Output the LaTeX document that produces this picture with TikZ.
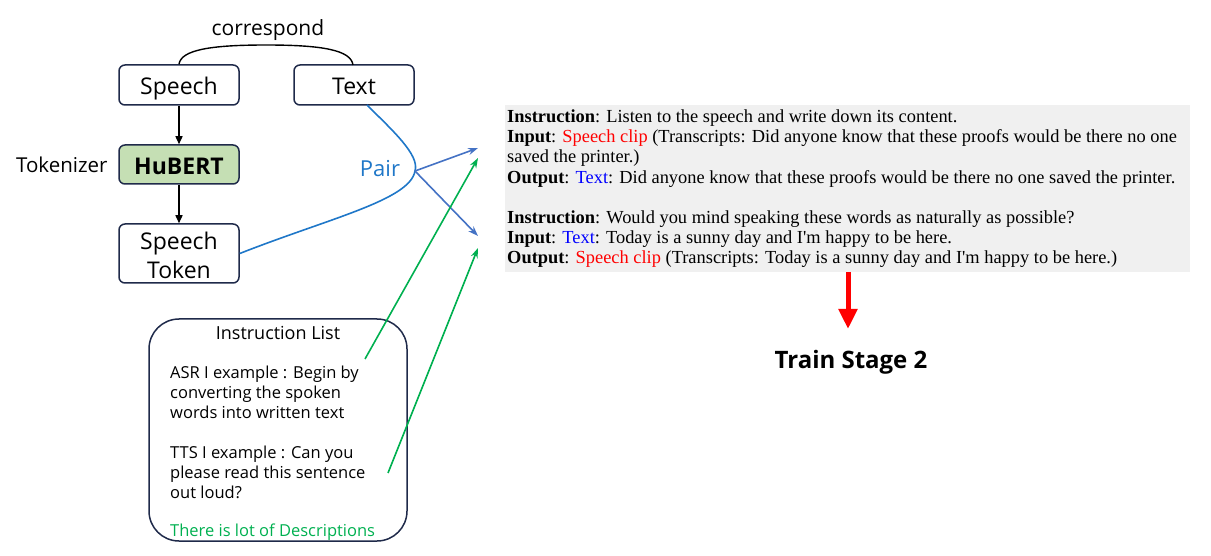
\documentclass[tikz,border=0pt]{standalone}
\usepackage{fontspec}
\setmainfont{Open Sans}
\newfontfamily\serifbox{Liberation Serif}
\usetikzlibrary{arrows.meta,calc}
\definecolor{navy}{HTML}{1F2A4A}
\definecolor{hgreen}{HTML}{C5DFB4}
\definecolor{pairblue}{HTML}{1F77C8}
\definecolor{arrblue}{HTML}{4472C4}
\definecolor{lgreen}{HTML}{00B050}
\definecolor{boxgray}{HTML}{F0F0F0}
\tikzset{
  blk/.style={draw=navy, line width=1.5pt, rounded corners=6pt, minimum width=120pt, font=\fontsize{23}{29}\selectfont, inner sep=0pt, align=center},
  oneline/.style={text height=20pt, text depth=0pt},
  tip/.style={-{Stealth[length=10pt,width=7pt]}},
  sline/.style={line width=1.6pt},
  small/.style={font=\fontsize{16.5}{20}\selectfont, anchor=north west, align=left, inner sep=0pt},
}
\begin{document}
\begin{tikzpicture}[x=1pt,y=-1pt]
\useasboundingbox (0,0) rectangle (1211,556);
% left column
\node[blk, oneline, minimum height=40pt] (speech) at (179,85) {Speech};
\node[blk, oneline, minimum height=40pt] (text) at (354,85) {Text};
\node[blk, oneline, minimum height=39pt, fill=hgreen, font=\fontsize{23}{28}\selectfont\bfseries] (hubert) at (179,164.5) {HuBERT};
\node[blk, minimum height=59pt, label={[font=\fontsize{23}{29}\selectfont, align=center, inner sep=0pt, yshift=-1.5pt]center:Speech\\Token}] (stoken) at (179,253.5) {};
\node[font=\fontsize{20.5}{24}\selectfont, anchor=east] (tok) at (111,165) {Tokenizer};
\node[font=\fontsize{21}{24}\selectfont] (corr) at (268,30) {correspond};
\draw[line width=1.4pt] (speech.north) .. controls (181,50) and (210,45) .. (266,45) .. controls (322,45) and (351,50) .. (353,65);
\draw[line width=1.4pt, -{Triangle[length=8pt,width=7pt]}] (speech) -- (hubert);
\draw[line width=1.4pt, -{Triangle[length=8pt,width=7pt]}] (hubert) -- (stoken);
% pair curve
\coordinate (tb) at (367,105);
\coordinate (p) at (415,171);
\draw[pairblue, sline] (tb) .. controls (392,130) and (420,155) .. (p) .. controls (410,200) and (330,218) .. (stoken.east);
\node[pairblue, font=\fontsize{22}{26}\selectfont] (pair) at (380,169) {Pair};
\coordinate (t1) at (478,148);
\coordinate (t2) at (478,236);
\coordinate (t3) at (478,158);
\coordinate (t4) at (478,248);
\draw[arrblue, sline, tip] (p) -- (t1);
\draw[arrblue, sline, tip] (p) -- (t2);
% instruction list
\draw[navy, line width=1.5pt, rounded corners=30pt] (149,319) rectangle (407,541);
\node[font=\fontsize{18}{22}\selectfont] (ilt) at (278,333) {Instruction List};
\node[small] (asr) at (170,366) {ASR I example : Begin by\\converting the spoken\\words into written text};
\node[small] (tts) at (170,445.5) {TTS I example : Can you\\please read this sentence\\out loud?};
\node[lgreen, font=\fontsize{16.5}{20}\selectfont, anchor=west, inner sep=0pt] (desc) at (170,532.5) {There is lot of Descriptions};
\coordinate (g1) at (365,359);
\coordinate (g2) at (388,473);
\draw[lgreen, sline, tip] (g1) -- (t3);
\draw[lgreen, sline, tip] (g2) -- (t4);
% gray box
\fill[boxgray] (505,105) rectangle (1190,272);
\node[anchor=north west, inner sep=0pt, align=left, font=\serifbox\fontsize{18.4}{20.2}\selectfont] (ex) at (507,109.5) {%
\textbf{Instruction}: Listen to the speech and write down its content.\\
\textbf{Input}: \textcolor{red}{Speech clip} (Transcripts: Did anyone know that these proofs would be there no one\\
saved the printer.)\\
\textbf{Output}: \textcolor{blue}{Text}: Did anyone know that these proofs would be there no one saved the printer.\\[20.2pt]
\textbf{Instruction}: Would you mind speaking these words as naturally as possible?\\
\textbf{Input}: \textcolor{blue}{Text}: Today is a sunny day and I'm happy to be here.\\
\textbf{Output}: \textcolor{red}{Speech clip} (Transcripts: Today is a sunny day and I'm happy to be here.)};
\coordinate (ra) at (848,272);
\node[font=\fontsize{24}{28}\selectfont\bfseries] (stage) at (851,362) {Train Stage 2};
\draw[red, line width=5pt, -{Triangle[length=20pt,width=18pt]}] (ra) -- (848,329);
\end{tikzpicture}
\end{document}
